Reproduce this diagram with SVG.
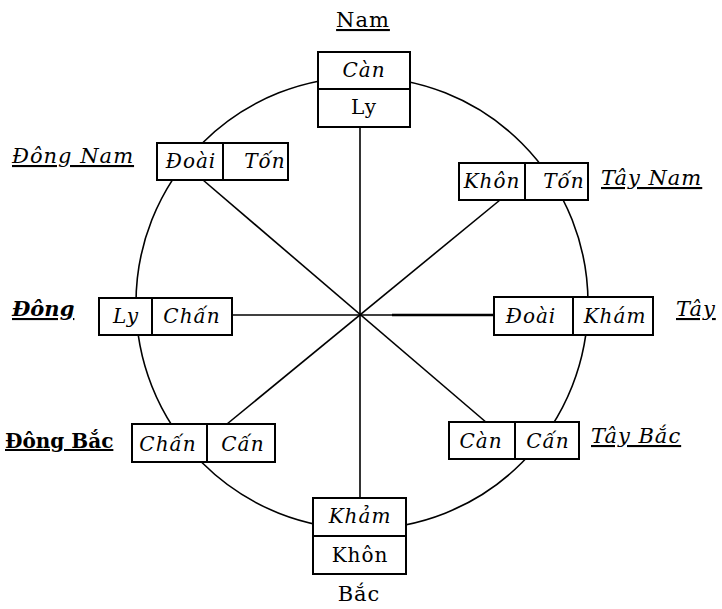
<svg xmlns="http://www.w3.org/2000/svg" width="722" height="609" viewBox="0 0 722 609">
<style>
.bg{fill:#fff}
.box{fill:#fff;stroke:#000;stroke-width:2}
.ln{stroke:#000;stroke-width:1.6;fill:none}
.t{font-family:"DejaVu Serif","Liberation Serif",serif;font-size:20px;letter-spacing:1px;fill:#000;text-anchor:middle}
.i{font-style:italic}
.lab{font-family:"DejaVu Serif","Liberation Serif",serif;font-size:21px;fill:#000;text-decoration:underline}
.li{font-style:italic;letter-spacing:1px}
.b{font-weight:bold}
</style>
<rect class="bg" x="0" y="0" width="722" height="609"/>
<g id="ring"><circle class="ln" cx="362" cy="303" r="226"/></g>
<g id="connectors">
<line class="ln" x1="360" y1="127" x2="360" y2="498"/>
<line class="ln" x1="232" y1="315" x2="494" y2="315"/>
<line class="ln" x1="392" y1="315" x2="494" y2="315" style="stroke-width:2.4"/>
<line class="ln" x1="203" y1="180" x2="487" y2="423"/>
<line class="ln" x1="500" y1="200" x2="227" y2="424"/>
</g>
<g id="nam">
<rect class="box" x="318" y="52" width="92" height="37"/>
<rect class="box" x="318" y="89" width="92" height="38"/>
<text class="t i" x="364" y="77">Càn</text>
<text class="t" x="364" y="114">Ly</text>
<text class="lab" x="363" y="27" text-anchor="middle" style="letter-spacing:1px">Nam</text>
</g>
<g id="dong-nam">
<rect class="box" x="157" y="143" width="66" height="37"/>
<rect class="box" x="223" y="143" width="65" height="37"/>
<text class="t i" x="191" y="168">Đoài</text>
<text class="t i" x="265" y="168">Tốn</text>
<text class="lab li" x="12" y="163">Đông Nam</text>
</g>
<g id="tay-nam">
<rect class="box" x="459" y="163" width="66" height="37"/>
<rect class="box" x="525" y="163" width="63" height="37"/>
<text class="t i" x="492" y="188">Khôn</text>
<text class="t i" x="564" y="188">Tốn</text>
<text class="lab li" x="601" y="185">Tây Nam</text>
</g>
<g id="dong">
<rect class="box" x="99" y="298" width="53" height="37"/>
<rect class="box" x="152" y="298" width="80" height="37"/>
<text class="t i" x="126" y="323">Ly</text>
<text class="t i" x="192" y="323">Chấn</text>
<text class="lab li b" x="12" y="316" style="letter-spacing:0">Đông</text>
</g>
<g id="tay">
<rect class="box" x="494" y="297" width="79" height="38"/>
<rect class="box" x="573" y="297" width="80" height="38"/>
<text class="t i" x="531" y="323">Đoài</text>
<text class="t i" x="615" y="323">Khám</text>
<text class="lab li" x="676" y="316">Tây</text>
</g>
<g id="dong-bac">
<rect class="box" x="132" y="424" width="75" height="38"/>
<rect class="box" x="207" y="424" width="68" height="38"/>
<text class="t i" x="168" y="451">Chấn</text>
<text class="t i" x="243" y="451">Cấn</text>
<text class="lab b" x="5" y="448" style="font-size:20px">Đông Bắc</text>
</g>
<g id="tay-bac">
<rect class="box" x="449" y="422" width="66" height="37"/>
<rect class="box" x="515" y="422" width="64" height="37"/>
<text class="t i" x="481" y="448">Càn</text>
<text class="t i" x="548" y="448">Cấn</text>
<text class="lab li" x="591" y="443">Tây Bắc</text>
</g>
<g id="bac">
<rect class="box" x="313" y="498" width="93" height="38"/>
<rect class="box" x="313" y="536" width="93" height="38"/>
<text class="t i" x="360" y="523">Khảm</text>
<text class="t" x="360" y="562">Khôn</text>
<text class="t" x="359" y="601" style="font-size:21px">Bắc</text>
</g>
</svg>
